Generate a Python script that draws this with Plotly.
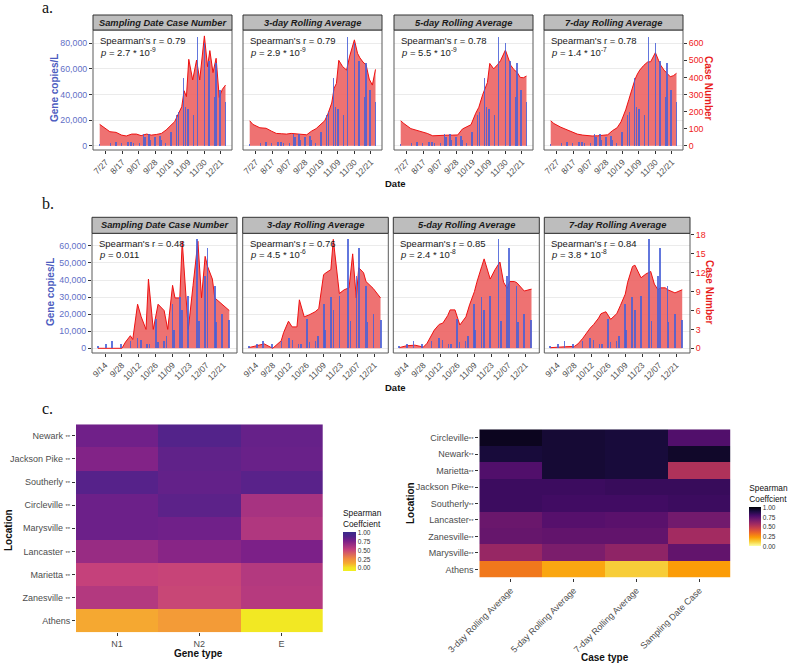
import plotly.graph_objects as go

W, H = 789, 665
FONT = "Liberation Sans, Arial, sans-serif"


def px(x):
    return x / W


def py(y):
    return 1 - y / H


FACETS = ["Sampling Date Case Number", "3-day Rolling Average",
          "5-day Rolling Average", "7-day Rolling Average"]

# ---------------- Panel a data ----------------
a_gene_dates = ["2020-07-19", "2020-08-02", "2020-08-09", "2020-08-16", "2020-08-24", "2020-08-28",
                "2020-08-31", "2020-09-08", "2020-09-13", "2020-09-15", "2020-09-20", "2020-09-22",
                "2020-09-28", "2020-10-04", "2020-10-06", "2020-10-11", "2020-10-18", "2020-10-25",
                "2020-10-28", "2020-11-03", "2020-11-06", "2020-11-09", "2020-11-16", "2020-11-21",
                "2020-11-30", "2020-12-06", "2020-12-13", "2020-12-15", "2020-12-20", "2020-12-27"]
a_gene_copies = [1000, 1800, 2600, 2300, 3100, 2900, 1800, 2300, 8900, 6500, 8900, 4400, 7000, 7600,
                 4400, 2300, 10900, 24000, 26600, 52600, 30500, 28400, 24000, 85200, 80000, 66400,
                 38000, 64400, 43500, 34400]
a_case_dates = ["2020-07-19", "2020-07-23", "2020-08-01", "2020-08-09", "2020-08-16", "2020-08-22",
                "2020-08-29", "2020-09-04", "2020-09-10", "2020-09-17", "2020-09-23", "2020-09-30",
                "2020-10-06", "2020-10-12", "2020-10-17", "2020-10-23", "2020-10-27", "2020-11-01",
                "2020-11-04", "2020-11-07", "2020-11-10", "2020-11-15", "2020-11-20", "2020-11-24",
                "2020-11-30", "2020-12-04", "2020-12-07", "2020-12-11", "2020-12-15", "2020-12-19",
                "2020-12-23", "2020-12-27"]
a_case_sampling = [125, 111, 82, 78, 62, 57, 68, 68, 59, 68, 62, 66, 72, 92, 115, 141, 180, 228, 322, 287,
                   506, 385, 502, 385, 643, 463, 557, 428, 512, 283, 330, 355]
a_case_3day = [146, 125, 105, 102, 85, 72, 70, 68, 72, 68, 66, 64, 85, 100, 121, 146, 185, 250, 336, 365,
               500, 463, 443, 525, 620, 541, 515, 490, 473, 390, 355, 447]
a_case_5day = [146, 130, 100, 90, 83, 72, 58, 60, 62, 62, 62, 63, 98, 110, 123, 190, 225, 300, 336, 370,
               482, 450, 475, 500, 560, 500, 470, 445, 430, 400, 398, 408]
a_case_7day = [146, 130, 108, 92, 78, 68, 62, 58, 57, 58, 60, 64, 88, 105, 140, 210, 270, 346, 390, 420,
               443, 470, 490, 492, 545, 500, 470, 443, 425, 404, 410, 424]
a_r = ["0.79", "0.79", "0.78", "0.78"]
a_p = ["2.7 * 10<sup>-9</sup>", "2.9 * 10<sup>-9</sup>", "5.5 * 10<sup>-9</sup>", "1.4 * 10<sup>-7</sup>"]
a_tickvals = ["2020-07-27", "2020-08-17", "2020-09-07", "2020-09-28", "2020-10-19", "2020-11-09",
              "2020-11-30", "2020-12-21"]
a_ticktext = ["7/27", "8/17", "9/07", "9/28", "10/19", "11/09", "11/30", "12/21"]
a_copies_ticks = [0, 20000, 40000, 60000, 80000]
a_case_ticks = [0, 100, 200, 300, 400, 500, 600]

# ---------------- Panel b data ----------------
b_gene_dates = ["2020-09-08", "2020-09-15", "2020-09-20", "2020-09-27", "2020-10-05", "2020-10-11",
                "2020-10-14", "2020-10-19", "2020-10-21", "2020-10-26", "2020-10-28", "2020-11-02",
                "2020-11-04", "2020-11-09", "2020-11-10", "2020-11-15", "2020-11-17", "2020-11-22",
                "2020-11-29", "2020-12-01", "2020-12-06", "2020-12-08", "2020-12-14", "2020-12-15",
                "2020-12-20", "2020-12-26"]
b_gene_copies = [1400, 2300, 4300, 2500, 3900, 5900, 4900, 2500, 2500, 17000, 3500, 4300, 7200, 26000,
                 10400, 29900, 22500, 30700, 63900, 16000, 42400, 58600, 36500, 15000, 19900, 16600]
b_case_dates = ["2020-09-08", "2020-09-14", "2020-09-21", "2020-09-28", "2020-10-01", "2020-10-05",
                "2020-10-07", "2020-10-11", "2020-10-14", "2020-10-18", "2020-10-20", "2020-10-24",
                "2020-10-28", "2020-11-02", "2020-11-05", "2020-11-09", "2020-11-11", "2020-11-15",
                "2020-11-17", "2020-11-22", "2020-11-26", "2020-11-30", "2020-12-03", "2020-12-06",
                "2020-12-08", "2020-12-12", "2020-12-14", "2020-12-20", "2020-12-26"]
b_case_sampling = [0, 0, 0, 0, 1, 2, 1.4, 7, 5, 3, 11, 3, 7, 6, 3, 10, 8, 8, 17, 3, 10, 17, 8, 14.6, 13,
                   11, 8, 7, 6]
b_case_3day = [0.1, 0.4, 0.7, 0, 0.5, 1.2, 2.5, 4.3, 3.4, 3.4, 7.7, 5, 5.3, 5.8, 6.3, 11.7, 12, 12.5,
               17.3, 8.7, 9.3, 9.6, 15, 8, 12.8, 12, 10.6, 9.5, 8]
b_case_5day = [0.1, 0.4, 0.5, 0.2, 0.8, 2.2, 2.9, 3.8, 4, 5.2, 6.1, 6.1, 3.7, 5, 6.9, 9, 10.5, 13, 14.2,
               11, 12.5, 13.7, 10.5, 9.5, 10.6, 10.6, 10.4, 9.1, 9.4]
b_case_7day = [0.1, 0.2, 0.25, 0.3, 0.7, 1.6, 2.2, 3.2, 3.8, 4.8, 5.5, 5.8, 4.6, 5.5, 6.8, 8.6, 10.5, 13,
               13.2, 11.2, 11.8, 12.2, 10.2, 9.3, 9.6, 9.6, 9.3, 8.8, 9.3]
b_r = ["0.48", "0.76", "0.85", "0.84"]
b_p = ["0.011", "4.5 * 10<sup>-6</sup>", "2.4 * 10<sup>-8</sup>", "3.8 * 10<sup>-8</sup>"]
b_tickvals = ["2020-09-14", "2020-09-28", "2020-10-12", "2020-10-26", "2020-11-09", "2020-11-23",
              "2020-12-07", "2020-12-21"]
b_ticktext = ["9/14", "9/28", "10/12", "10/26", "11/09", "11/23", "12/07", "12/21"]
b_copies_ticks = [0, 10000, 20000, 30000, 40000, 50000, 60000]
b_case_ticks = [0, 3, 6, 9, 12, 15, 18]

# ---------------- Panel c data ----------------
gene_types = ["N1", "N2", "E"]
gene_locations = ["Newark", "Jackson Pike", "Southerly", "Circleville", "Marysville", "Lancaster",
                  "Marietta", "Zanesville", "Athens"]
gene_signif = ["**", "**", "**", "**", "**", "**", "**", "**", ""]
gene_corr = [
    [0.78, 0.87, 0.81],
    [0.72, 0.83, 0.80],
    [0.86, 0.82, 0.85],
    [0.79, 0.84, 0.60],
    [0.79, 0.78, 0.57],
    [0.65, 0.70, 0.74],
    [0.50, 0.49, 0.56],
    [0.56, 0.48, 0.55],
    [0.13, 0.18, -0.05],
]
case_types = ["3-day Rolling Average", "5-day Rolling Average", "7-day Rolling Average",
              "Sampling Date Case"]
case_locations = ["Circleville", "Newark", "Marietta", "Jackson Pike", "Southerly", "Lancaster",
                  "Zanesville", "Marysville", "Athens"]
case_signif = ["**", "**", "**", "**", "**", "**", "**", "**", ""]
case_corr = [
    [0.95, 0.91, 0.90, 0.76],
    [0.90, 0.91, 0.90, 0.93],
    [0.76, 0.91, 0.90, 0.53],
    [0.81, 0.81, 0.82, 0.82],
    [0.81, 0.80, 0.80, 0.81],
    [0.70, 0.75, 0.74, 0.68],
    [0.71, 0.72, 0.72, 0.56],
    [0.59, 0.66, 0.61, 0.72],
    [0.30, 0.20, 0.12, 0.22],
]
cbar_ticks = [0, 0.25, 0.5, 0.75, 1]
cbar_text = ["0.00", "0.25", "0.50", "0.75", "1.00"]

# muted plasma-like scale (reversed) as seen in the reference
plasma_muted = [
    [0.0, "#f0f021"], [0.09, "#f3e024"], [0.2, "#f6aa30"], [0.32, "#ef8a40"],
    [0.55, "#c4407c"], [0.77, "#7a1f88"], [0.89, "#50238a"], [1.0, "#3a2a8c"],
]

# ---------------- layout geometry ----------------
BLUE_T = "#5f6fc6"
BLUE_TITLE = "#4c5cc0"
RED_T = "#f02020"
DAY = 86400000

panels = [
    dict(gdates=a_gene_dates, gene=a_gene_copies, cdates=a_case_dates,
         cases=[a_case_sampling, a_case_3day, a_case_5day, a_case_7day], r=a_r, p=a_p,
         xrange=["2020-07-10 10:00", "2021-01-04 08:00"], tv=a_tickvals, tt=a_ticktext,
         yrange=[-3360, 90360], ratio=80000 / 600, yt=a_copies_ticks, ct=a_case_ticks,
         xs=[(93, 232), (243, 382), (394, 533), (544, 683)], top=30, bot=150, strip=15,
         barw=1.8 * DAY, label="a.", label_y=7, date_y=183, ytitle_x=54, ytitle_y=88,
         ctitle_x=709, stat_y=(40.7, 51.7)),
    dict(gdates=b_gene_dates, gene=b_gene_copies, cdates=b_case_dates,
         cases=[b_case_sampling, b_case_3day, b_case_5day, b_case_7day], r=b_r, p=b_p,
         xrange=["2020-09-03 05:00", "2021-01-01 10:00"], tv=b_tickvals, tt=b_ticktext,
         yrange=[-2750, 67390], ratio=3690, yt=b_copies_ticks, ct=b_case_ticks,
         xs=[(92, 237), (242.7, 388.3), (393.3, 539.3), (544.3, 690)], top=233.3, bot=353,
         strip=217.3, barw=1.4 * DAY, label="b.", label_y=204, date_y=387, ytitle_x=50,
         ytitle_y=292, ctitle_x=710, stat_y=(243.3, 254)),
]


def xname(i):
    return "xaxis" if i == 1 else f"xaxis{i}"


def yname(i):
    return "yaxis" if i == 1 else f"yaxis{i}"


def xref(i):
    return "x" if i == 1 else f"x{i}"


def yref(i):
    return "y" if i == 1 else f"y{i}"


fig = go.Figure()
layout = {}
shapes = []
annotations = []

f = 0
for P in panels:
    for j in range(4):
        xid = f + 1
        ybase = f + 1
        ycop = 9 + f
        x0, x1 = P["xs"][j]
        first, last = j == 0, j == 3
        lo, hi = P["yrange"]
        layout[xname(xid)] = dict(
            domain=[px(x0), px(x1)], anchor=yref(ybase), type="date", range=P["xrange"],
            tickvals=P["tv"], ticktext=P["tt"], tickangle=-45, ticks="outside", ticklen=3,
            tickcolor="#333333", tickfont=dict(size=8.5, color="#4d4d4d"), showgrid=False,
            zeroline=False, showline=False, automargin=False)
        layout[yname(ybase)] = dict(
            domain=[py(P["bot"]), py(P["top"])], anchor=xref(xid), range=[lo / P["ratio"], hi / P["ratio"]],
            side="right", showgrid=False, zeroline=False, tickvals=P["ct"],
            ticks="outside" if last else "", ticklen=3, tickcolor="#333333",
            showticklabels=last, tickfont=dict(size=8.8, color=RED_T), automargin=False)
        layout[yname(ycop)] = dict(
            overlaying=yref(ybase), anchor=xref(xid), range=[lo, hi], side="left",
            showgrid=True, gridcolor="#ebebeb", gridwidth=1, zeroline=False, tickvals=P["yt"],
            tickformat=",d", ticks="outside" if first else "", ticklen=3, tickcolor="#333333",
            showticklabels=first, tickfont=dict(size=8.8, color=BLUE_T), automargin=False)
        fig.add_trace(go.Scatter(
            x=P["cdates"], y=P["cases"][j], xaxis=xref(xid), yaxis=yref(ybase), mode="lines",
            line=dict(color="#ee1111", width=1), fill="tozeroy", fillcolor="rgba(236,95,95,0.88)",
            hoverinfo="skip"))
        fig.add_trace(go.Bar(
            x=P["gdates"], y=P["gene"], xaxis=xref(xid), yaxis=yref(ycop), width=P["barw"],
            marker=dict(color="rgba(70,95,215,0.85)", line=dict(width=0)), hoverinfo="skip"))
        shapes.append(dict(type="rect", xref="paper", yref="paper", x0=px(x0), x1=px(x1),
                           y0=py(P["bot"]), y1=py(P["top"]), line=dict(color="#5a5a5a", width=1),
                           fillcolor="rgba(0,0,0,0)", layer="above"))
        shapes.append(dict(type="rect", xref="paper", yref="paper", x0=px(x0), x1=px(x1),
                           y0=py(P["top"]), y1=py(P["strip"]), line=dict(color="#333333", width=1),
                           fillcolor="#bdbdbd", layer="above"))
        annotations.append(dict(x=px((x0 + x1) / 2), y=py((P["strip"] + P["top"]) / 2), xref="paper",
                                yref="paper", text=f"<b><i>{FACETS[j]}</i></b>", showarrow=False,
                                font=dict(size=9.3, color="#1a1a1a"), xanchor="center", yanchor="middle"))
        annotations.append(dict(x=px(x0 + 5), y=py(P["stat_y"][0]), xref="paper", yref="paper",
                                text=f"Spearman's r = {P['r'][j]}", showarrow=False,
                                font=dict(size=9.5, color="#1a1a1a"), xanchor="left", yanchor="middle"))
        annotations.append(dict(x=px(x0 + 5), y=py(P["stat_y"][1]), xref="paper", yref="paper",
                                text=f"<i>p</i> = {P['p'][j]}", showarrow=False,
                                font=dict(size=9.5, color="#1a1a1a"), xanchor="left", yanchor="middle"))
        f += 1
    annotations.append(dict(x=px(40), y=py(P["label_y"]), xref="paper", yref="paper", text=P["label"],
                            showarrow=False, font=dict(size=16, color="#111111",
                                                       family="Liberation Serif, Times New Roman, serif"),
                            xanchor="left", yanchor="middle"))
    annotations.append(dict(x=px(395), y=py(P["date_y"]), xref="paper", yref="paper", text="<b>Date</b>",
                            showarrow=False, font=dict(size=9.5, color="#111111"), xanchor="center",
                            yanchor="middle"))
    annotations.append(dict(x=px(P["ytitle_x"]), y=py(P["ytitle_y"]), xref="paper", yref="paper",
                            text="<b>Gene copies/L</b>", textangle=-90, showarrow=False,
                            font=dict(size=10, color=BLUE_TITLE), xanchor="center", yanchor="middle"))
    annotations.append(dict(x=px(P["ctitle_x"]), y=py(P["ytitle_y"]), xref="paper", yref="paper",
                            text="<b>Case Number</b>", textangle=90, showarrow=False,
                            font=dict(size=10, color="#e81c1c"), xanchor="center", yanchor="middle"))

annotations.append(dict(x=px(40), y=py(408), xref="paper", yref="paper", text="c.", showarrow=False,
                        font=dict(size=16, color="#111111", family="Liberation Serif, Times New Roman, serif"),
                        xanchor="left", yanchor="middle"))

# ---------------- heatmaps ----------------
STAR = "<span style='font-size:6px'>{}</span>"
gene_ylabels = [f"{n} " + STAR.format(s) if s else n for n, s in zip(gene_locations, gene_signif)]
case_ylabels = [f"{n}" + STAR.format(s) if s else n for n, s in zip(case_locations, case_signif)]

fig.add_trace(go.Heatmap(
    z=gene_corr, x=gene_types, y=gene_ylabels, xaxis="x9", yaxis="y17", colorscale=plasma_muted,
    zmin=-0.1, zmax=1.0, hoverinfo="skip",
    colorbar=dict(x=px(343), xanchor="left", y=py(506.7), yanchor="top", len=65, lenmode="pixels",
                  thickness=13, thicknessmode="pixels", outlinewidth=0, tickvals=cbar_ticks,
                  ticktext=cbar_text, ticks="", tickfont=dict(size=6.5, color="#333333"), xpad=0, ypad=0,
                  title=dict(text="Spearman<br>Coeffcient", side="top", font=dict(size=8.3, color="#111111")))))
fig.add_trace(go.Heatmap(
    z=case_corr, x=case_types, y=case_ylabels, xaxis="x10", yaxis="y18", colorscale="Inferno",
    reversescale=True, zmin=0, zmax=1.0, hoverinfo="skip",
    colorbar=dict(x=px(749.3), xanchor="left", y=py(481.7), yanchor="top", len=65, lenmode="pixels",
                  thickness=12, thicknessmode="pixels", outlinewidth=0, tickvals=cbar_ticks,
                  ticktext=cbar_text, ticks="", tickfont=dict(size=6.5, color="#333333"), xpad=0, ypad=0,
                  title=dict(text="Spearman<br>Coeffcient", side="top", font=dict(size=8.3, color="#111111")))))

layout["xaxis9"] = dict(domain=[px(76), px(322.7)], anchor="y17", ticks="outside", ticklen=3,
                        tickcolor="#333333", tickfont=dict(size=9, color="#4d4d4d"), showgrid=False,
                        zeroline=False, showline=False, automargin=False)
layout["yaxis17"] = dict(domain=[py(632.3), py(424.3)], anchor="x9", autorange="reversed", ticks="outside",
                         ticklen=3, tickcolor="#333333", tickfont=dict(size=9, color="#4d4d4d"),
                         showgrid=False, zeroline=False, showline=False, automargin=False)
layout["xaxis10"] = dict(domain=[px(479.3), px(730.7)], anchor="y18", ticks="outside", ticklen=3,
                         tickangle=-45, tickcolor="#333333", tickfont=dict(size=9, color="#4d4d4d"),
                         showgrid=False, zeroline=False, showline=False, automargin=False)
layout["yaxis18"] = dict(domain=[py(577.7), py(429.3)], anchor="x10", autorange="reversed", ticks="outside",
                         ticklen=3, tickcolor="#333333", tickfont=dict(size=9, color="#4d4d4d"),
                         showgrid=False, zeroline=False, showline=False, automargin=False)

for (tx, ty, txt, ang) in [(8, 530, "Location", -90), (199, 653, "Gene type", 0),
                           (410, 503, "Location", -90), (605, 657, "Case type", 0)]:
    annotations.append(dict(x=px(tx), y=py(ty), xref="paper", yref="paper", text=f"<b>{txt}</b>",
                            textangle=ang, showarrow=False, font=dict(size=10, color="#111111"),
                            xanchor="center", yanchor="middle"))

fig.update_layout(
    width=W, height=H, margin=dict(l=0, r=0, t=0, b=0, autoexpand=False), paper_bgcolor="white",
    plot_bgcolor="white", showlegend=False, bargap=0, font=dict(family=FONT, color="#222222"),
    shapes=shapes, annotations=annotations, **layout)

fig.write_html("out.html", config={"displayModeBar": False},
               post_script="document.body.style.margin='0';document.body.style.overflow='hidden';")
